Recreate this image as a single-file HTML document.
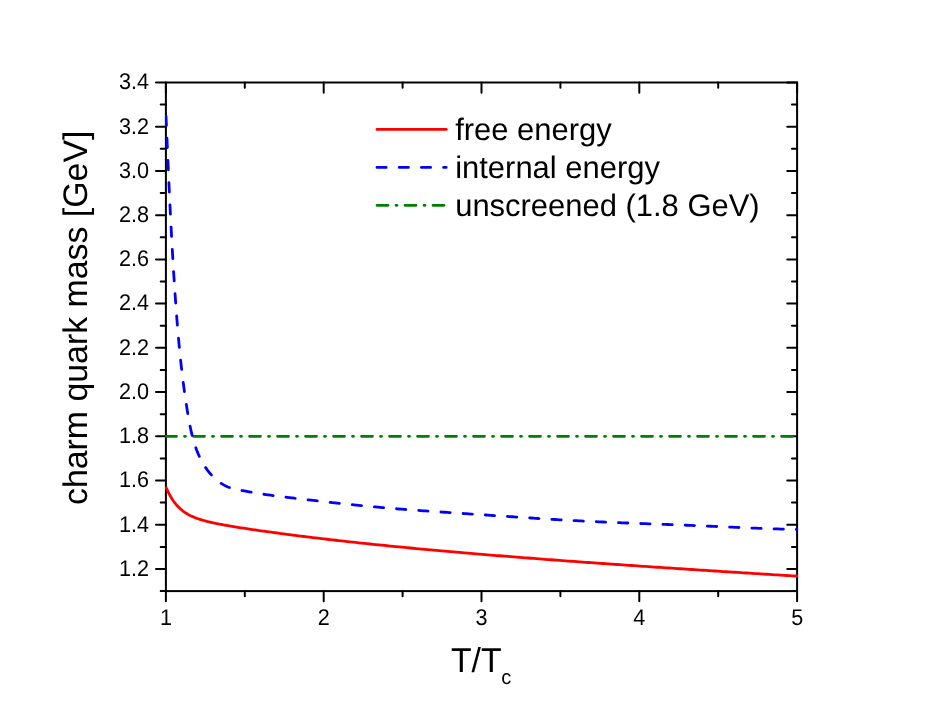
<!DOCTYPE html>
<html><head><meta charset="utf-8"><title>chart</title>
<style>
html,body{margin:0;padding:0;background:#fff;}
svg{display:block;will-change:transform;text-rendering:geometricPrecision;font-family:"Liberation Sans",sans-serif;fill:#000;}
</style></head>
<body>
<svg width="926" height="709" viewBox="0 0 926 709">
<rect width="926" height="709" fill="#fff" stroke="none"/>
<rect x="165.9" y="82.5" width="631.2" height="508.6" fill="none" stroke="#000" stroke-width="2"/>
<path d="M165.9,591.1h-5.2M797.15,591.1h-5.2M165.9,569.0h-9.9M797.15,569.0h-9.9M165.9,546.9h-5.2M797.15,546.9h-5.2M165.9,524.7h-9.9M797.15,524.7h-9.9M165.9,502.6h-5.2M797.15,502.6h-5.2M165.9,480.5h-9.9M797.15,480.5h-9.9M165.9,458.4h-5.2M797.15,458.4h-5.2M165.9,436.3h-9.9M797.15,436.3h-9.9M165.9,414.2h-5.2M797.15,414.2h-5.2M165.9,392.1h-9.9M797.15,392.1h-9.9M165.9,370.0h-5.2M797.15,370.0h-5.2M165.9,347.8h-9.9M797.15,347.8h-9.9M165.9,325.7h-5.2M797.15,325.7h-5.2M165.9,303.6h-9.9M797.15,303.6h-9.9M165.9,281.5h-5.2M797.15,281.5h-5.2M165.9,259.4h-9.9M797.15,259.4h-9.9M165.9,237.3h-5.2M797.15,237.3h-5.2M165.9,215.2h-9.9M797.15,215.2h-9.9M165.9,193.1h-5.2M797.15,193.1h-5.2M165.9,170.9h-9.9M797.15,170.9h-9.9M165.9,148.8h-5.2M797.15,148.8h-5.2M165.9,126.7h-9.9M797.15,126.7h-9.9M165.9,104.6h-5.2M797.15,104.6h-5.2M165.9,82.5h-9.9M797.15,82.5h-9.9M165.9,591.1v10.2M165.9,82.5v10.2M244.8,591.1v5.2M244.8,82.5v5.2M323.7,591.1v10.2M323.7,82.5v10.2M402.6,591.1v5.2M402.6,82.5v5.2M481.5,591.1v10.2M481.5,82.5v10.2M560.4,591.1v5.2M560.4,82.5v5.2M639.3,591.1v10.2M639.3,82.5v10.2M718.2,591.1v5.2M718.2,82.5v5.2M797.1,591.1v10.2M797.1,82.5v10.2" stroke="#000" stroke-width="2" stroke-linecap="round" fill="none"/>
<g font-size="21.6"><text transform="translate(149,575.76) scale(1,1.05)" text-anchor="end">1.2</text><text transform="translate(149,531.54) scale(1,1.05)" text-anchor="end">1.4</text><text transform="translate(149,487.32) scale(1,1.05)" text-anchor="end">1.6</text><text transform="translate(149,443.09) scale(1,1.05)" text-anchor="end">1.8</text><text transform="translate(149,398.87) scale(1,1.05)" text-anchor="end">2.0</text><text transform="translate(149,354.64) scale(1,1.05)" text-anchor="end">2.2</text><text transform="translate(149,310.42) scale(1,1.05)" text-anchor="end">2.4</text><text transform="translate(149,266.20) scale(1,1.05)" text-anchor="end">2.6</text><text transform="translate(149,221.97) scale(1,1.05)" text-anchor="end">2.8</text><text transform="translate(149,177.75) scale(1,1.05)" text-anchor="end">3.0</text><text transform="translate(149,133.52) scale(1,1.05)" text-anchor="end">3.2</text><text transform="translate(149,89.30) scale(1,1.05)" text-anchor="end">3.4</text><text transform="translate(165.90,624.9) scale(1,1.05)" text-anchor="middle">1</text><text transform="translate(323.71,624.9) scale(1,1.05)" text-anchor="middle">2</text><text transform="translate(481.52,624.9) scale(1,1.05)" text-anchor="middle">3</text><text transform="translate(639.34,624.9) scale(1,1.05)" text-anchor="middle">4</text><text transform="translate(797.15,624.9) scale(1,1.05)" text-anchor="middle">5</text></g>
<clipPath id="cp"><rect x="164.90" y="81.50" width="633.25" height="510.58"/></clipPath>
<g clip-path="url(#cp)">
<path d="M165.9,436.3H797.15" stroke="#008000" stroke-width="2.8" stroke-linecap="round" stroke-dasharray="11 8 1 8" stroke-dashoffset="0.4" fill="none"/>
<path d="M165.98,115.55 L166.08,117.94 L166.18,120.33 L166.29,122.72 L166.39,125.11 L166.49,127.51 L166.59,129.90 L166.70,132.29 L166.80,134.69 L166.90,137.08 L167.01,139.48 L167.11,141.87 L167.21,144.27 L167.32,146.66 L167.42,149.06 L167.52,151.46 L167.63,153.86 L167.73,156.25 L167.84,158.65 L167.94,161.05 L168.05,163.45 L168.16,165.85 L168.26,168.25 L168.37,170.65 L168.48,173.05 L168.59,175.44 L168.69,177.84 L168.80,180.25 L168.91,182.65 L169.02,185.05 L169.13,187.45 L169.24,189.85 L169.36,192.25 L169.47,194.65 L169.58,197.05 L169.70,199.45 L169.81,201.85 L169.93,204.26 L170.04,206.66 L170.16,209.06 L170.28,211.46 L170.40,213.86 L170.52,216.26 L170.64,218.66 L170.76,221.07 L170.89,223.47 L171.01,225.87 L171.13,228.27 L171.26,230.67 L171.39,233.07 L171.52,235.47 L171.65,237.87 L171.78,240.27 L171.91,242.67 L172.04,245.07 L172.18,247.47 L172.31,249.87 L172.45,252.27 L172.59,254.67 L172.73,257.07 L172.87,259.47 L173.01,261.87 L173.15,264.27 L173.30,266.66 L173.44,269.06 L173.59,271.46 L173.74,273.86 L173.89,276.25 L174.05,278.65 L174.20,281.04 L174.36,283.44 L174.51,285.83 L174.67,288.23 L174.83,290.62 L175.00,293.01 L175.16,295.41 L175.33,297.80 L175.50,300.19 L175.67,302.58 L175.84,304.97 L176.01,307.36 L176.19,309.75 L176.36,312.14 L176.54,314.53 L176.73,316.92 L176.91,319.31 L177.10,321.70 L177.29,324.08 L177.49,326.47 L177.68,328.86 L177.88,331.24 L178.09,333.63 L178.29,336.01 L178.51,338.40 L178.72,340.78 L178.94,343.17 L179.16,345.55 L179.39,347.94 L179.62,350.32 L179.86,352.71 L180.10,355.09 L180.34,357.47 L180.59,359.86 L180.85,362.24 L181.11,364.62 L181.37,367.01 L181.64,369.39 L181.92,371.78 L182.20,374.16 L182.49,376.54 L182.78,378.93 L183.08,381.31 L183.39,383.70 L183.70,386.08 L184.02,388.47 L184.34,390.85 L184.67,393.24 L185.01,395.62 L185.36,398.01 L185.71,400.39 L186.07,402.78 L186.44,405.16 L186.81,407.55 L187.19,409.94 L187.58,412.33 L187.98,414.71 L188.39,417.10 L188.81,419.49 L189.24,421.87 L189.69,424.25 L190.16,426.62 L190.66,428.99 L191.17,431.34 L191.72,433.69 L192.30,436.02 L192.91,438.34 L193.55,440.65 L194.23,442.94 L194.96,445.21 L195.73,447.47 L196.54,449.70 L197.40,451.91 L198.32,454.10 L199.29,456.27 L200.31,458.41 L201.40,460.52 L202.54,462.60 L203.75,464.65 L205.03,466.67 L206.38,468.66 L207.79,470.60 L209.28,472.49 L210.83,474.32 L212.45,476.09 L214.15,477.78 L215.91,479.39 L217.73,480.92 L219.63,482.35 L221.60,483.67 L223.64,484.89 L225.75,485.99 L227.92,486.96 L230.17,487.80 L232.48,488.51 L234.85,489.11 L237.24,489.62 L239.65,490.09 L242.05,490.54 L244.44,490.98 L246.81,491.41 L249.18,491.84 L251.55,492.26 L253.91,492.67 L256.28,493.06 L258.64,493.45 L261.01,493.82 L263.38,494.18 L265.75,494.53 L268.12,494.88 L270.49,495.22 L272.87,495.54 L275.24,495.86 L277.62,496.18 L279.99,496.48 L282.37,496.79 L284.75,497.08 L287.13,497.37 L289.51,497.66 L291.89,497.94 L294.27,498.22 L296.65,498.50 L299.03,498.78 L301.41,499.05 L303.80,499.32 L306.18,499.59 L308.56,499.87 L310.95,500.14 L313.33,500.41 L315.71,500.68 L318.10,500.95 L320.48,501.23 L322.87,501.50 L325.25,501.77 L327.64,502.04 L330.02,502.30 L332.41,502.57 L334.80,502.83 L337.18,503.10 L339.57,503.36 L341.95,503.62 L344.34,503.88 L346.73,504.13 L349.12,504.39 L351.50,504.64 L353.89,504.88 L356.28,505.13 L358.67,505.37 L361.06,505.61 L363.44,505.84 L365.83,506.07 L368.22,506.30 L370.61,506.53 L373.00,506.75 L375.39,506.97 L377.78,507.18 L380.17,507.39 L382.56,507.60 L384.95,507.81 L387.34,508.01 L389.73,508.21 L392.12,508.41 L394.52,508.60 L396.91,508.80 L399.30,508.99 L401.69,509.17 L404.08,509.36 L406.47,509.54 L408.87,509.73 L411.26,509.91 L413.65,510.08 L416.04,510.26 L418.43,510.44 L420.83,510.61 L423.22,510.78 L425.61,510.95 L428.01,511.12 L430.40,511.29 L432.79,511.45 L435.19,511.62 L437.58,511.78 L439.97,511.95 L442.37,512.11 L444.76,512.27 L447.15,512.43 L449.55,512.59 L451.94,512.75 L454.34,512.91 L456.73,513.07 L459.13,513.23 L461.52,513.39 L463.91,513.55 L466.31,513.71 L468.70,513.87 L471.10,514.03 L473.49,514.19 L475.89,514.35 L478.28,514.51 L480.68,514.67 L483.07,514.83 L485.47,514.99 L487.86,515.16 L490.26,515.32 L492.65,515.48 L495.05,515.64 L497.44,515.80 L499.84,515.96 L502.23,516.12 L504.63,516.28 L507.02,516.44 L509.42,516.60 L511.81,516.76 L514.21,516.92 L516.61,517.08 L519.00,517.24 L521.40,517.40 L523.79,517.56 L526.19,517.71 L528.58,517.87 L530.98,518.02 L533.38,518.17 L535.77,518.33 L538.17,518.48 L540.57,518.63 L542.96,518.78 L545.36,518.93 L547.75,519.07 L550.15,519.22 L552.55,519.36 L554.94,519.51 L557.34,519.65 L559.74,519.79 L562.13,519.93 L564.53,520.06 L566.93,520.20 L569.32,520.33 L571.72,520.46 L574.12,520.59 L576.52,520.72 L578.91,520.84 L581.31,520.97 L583.71,521.09 L586.11,521.21 L588.50,521.33 L590.90,521.44 L593.30,521.56 L595.70,521.67 L598.09,521.78 L600.49,521.89 L602.89,521.99 L605.29,522.10 L607.68,522.20 L610.08,522.30 L612.48,522.40 L614.88,522.50 L617.28,522.60 L619.67,522.70 L622.07,522.79 L624.47,522.89 L626.87,522.98 L629.27,523.08 L631.67,523.17 L634.06,523.26 L636.46,523.35 L638.86,523.44 L641.26,523.53 L643.66,523.62 L646.06,523.71 L648.46,523.80 L650.85,523.89 L653.25,523.98 L655.65,524.07 L658.05,524.16 L660.45,524.24 L662.85,524.33 L665.25,524.42 L667.64,524.51 L670.04,524.60 L672.44,524.69 L674.84,524.78 L677.24,524.88 L679.64,524.97 L682.04,525.06 L684.44,525.16 L686.83,525.25 L689.23,525.35 L691.63,525.44 L694.03,525.54 L696.43,525.64 L698.83,525.74 L701.23,525.84 L703.63,525.95 L706.02,526.05 L708.42,526.15 L710.82,526.26 L713.22,526.36 L715.62,526.47 L718.02,526.57 L720.42,526.68 L722.82,526.79 L725.21,526.89 L727.61,527.00 L730.01,527.10 L732.41,527.21 L734.81,527.31 L737.21,527.42 L739.61,527.52 L742.01,527.62 L744.41,527.72 L746.81,527.82 L749.20,527.92 L751.60,528.02 L754.00,528.11 L756.40,528.21 L758.80,528.30 L761.20,528.39 L763.60,528.48 L766.00,528.57 L768.40,528.65 L770.80,528.73 L773.20,528.81 L775.60,528.89 L778.00,528.96 L780.40,529.03 L782.80,529.10 L785.20,529.17 L787.60,529.23 L790.00,529.29 L792.40,529.34 L794.80,529.39 L797.20,529.44" stroke="#0000ff" stroke-width="2.8" stroke-linecap="round" stroke-dasharray="9.3 12.94" stroke-dashoffset="-0.5" fill="none"/>
<path d="M165.90,486.74 L166.40,487.96 L166.91,489.13 L167.41,490.25 L167.92,491.34 L168.42,492.39 L168.93,493.40 L169.43,494.37 L169.93,495.31 L170.44,496.21 L170.94,497.09 L171.45,497.93 L171.95,498.74 L172.45,499.53 L172.96,500.28 L173.46,501.01 L173.97,501.72 L174.47,502.40 L174.98,503.06 L175.48,503.69 L175.98,504.31 L176.49,504.90 L176.99,505.47 L177.50,506.03 L178.00,506.56 L178.51,507.08 L179.01,507.58 L179.51,508.07 L180.02,508.54 L180.52,508.99 L181.03,509.43 L181.53,509.86 L182.03,510.27 L182.54,510.67 L183.04,511.06 L183.55,511.43 L184.05,511.80 L184.56,512.15 L185.06,512.49 L185.56,512.83 L186.07,513.15 L186.57,513.46 L187.08,513.77 L187.58,514.07 L188.08,514.35 L188.59,514.63 L189.09,514.91 L189.60,515.17 L190.10,515.43 L190.61,515.68 L191.11,515.93 L191.61,516.16 L192.12,516.40 L192.62,516.62 L193.13,516.85 L193.63,517.06 L194.14,517.27 L194.64,517.48 L195.14,517.68 L195.65,517.88 L196.15,518.07 L196.66,518.25 L197.16,518.44 L197.66,518.62 L198.17,518.79 L198.67,518.97 L199.18,519.14 L199.68,519.30 L200.19,519.46 L200.69,519.62 L201.19,519.78 L201.70,519.93 L202.20,520.08 L202.71,520.23 L203.21,520.38 L203.72,520.52 L204.22,520.66 L204.72,520.80 L205.23,520.93 L205.73,521.07 L206.24,521.20 L206.74,521.33 L207.24,521.46 L207.75,521.58 L208.25,521.71 L208.76,521.83 L209.26,521.95 L209.77,522.07 L210.27,522.19 L210.77,522.30 L211.28,522.42 L211.78,522.53 L212.29,522.64 L212.79,522.75 L213.29,522.86 L213.80,522.97 L214.30,523.08 L214.81,523.19 L215.31,523.29 L215.82,523.40 L216.32,523.50 L216.82,523.60 L217.33,523.70 L217.83,523.80 L218.34,523.90 L218.84,524.00 L219.35,524.10 L219.85,524.20 L220.35,524.29 L220.86,524.39 L221.36,524.48 L221.87,524.58 L222.37,524.67 L222.87,524.77 L223.38,524.86 L223.88,524.95 L224.39,525.04 L224.89,525.13 L225.40,525.22 L225.90,525.31 L226.40,525.40 L229.27,525.90 L232.15,526.38 L235.02,526.86 L237.89,527.32 L240.77,527.77 L243.64,528.22 L246.51,528.66 L249.38,529.09 L252.26,529.52 L255.13,529.94 L258.00,530.35 L260.88,530.77 L263.75,531.17 L266.62,531.58 L269.50,531.97 L272.37,532.37 L275.24,532.76 L278.12,533.15 L280.99,533.53 L283.86,533.91 L286.74,534.29 L289.61,534.66 L292.48,535.03 L295.35,535.40 L298.23,535.77 L301.10,536.13 L303.97,536.49 L306.85,536.84 L309.72,537.19 L312.59,537.54 L315.47,537.89 L318.34,538.23 L321.21,538.57 L324.09,538.91 L326.96,539.25 L329.83,539.58 L332.71,539.91 L335.58,540.24 L338.45,540.57 L341.32,540.89 L344.20,541.21 L347.07,541.53 L349.94,541.84 L352.82,542.16 L355.69,542.47 L358.56,542.78 L361.44,543.08 L364.31,543.39 L367.18,543.69 L370.06,543.99 L372.93,544.29 L375.80,544.59 L378.68,544.88 L381.55,545.17 L384.42,545.46 L387.29,545.75 L390.17,546.04 L393.04,546.32 L395.91,546.60 L398.79,546.89 L401.66,547.16 L404.53,547.44 L407.41,547.72 L410.28,547.99 L413.15,548.26 L416.03,548.53 L418.90,548.80 L421.77,549.07 L424.64,549.34 L427.52,549.60 L430.39,549.86 L433.26,550.12 L436.14,550.38 L439.01,550.64 L441.88,550.90 L444.76,551.15 L447.63,551.41 L450.50,551.66 L453.38,551.91 L456.25,552.16 L459.12,552.41 L462.00,552.66 L464.87,552.90 L467.74,553.15 L470.61,553.39 L473.49,553.63 L476.36,553.87 L479.23,554.11 L482.11,554.35 L484.98,554.59 L487.85,554.82 L490.73,555.06 L493.60,555.29 L496.47,555.53 L499.35,555.76 L502.22,555.99 L505.09,556.22 L507.97,556.45 L510.84,556.67 L513.71,556.90 L516.58,557.13 L519.46,557.35 L522.33,557.57 L525.20,557.80 L528.08,558.02 L530.95,558.24 L533.82,558.46 L536.70,558.68 L539.57,558.90 L542.44,559.12 L545.32,559.33 L548.19,559.55 L551.06,559.76 L553.94,559.98 L556.81,560.19 L559.68,560.40 L562.55,560.62 L565.43,560.83 L568.30,561.04 L571.17,561.25 L574.05,561.46 L576.92,561.66 L579.79,561.87 L582.67,562.08 L585.54,562.28 L588.41,562.49 L591.29,562.69 L594.16,562.90 L597.03,563.10 L599.91,563.30 L602.78,563.51 L605.65,563.71 L608.52,563.91 L611.40,564.11 L614.27,564.31 L617.14,564.51 L620.02,564.71 L622.89,564.91 L625.76,565.10 L628.64,565.30 L631.51,565.50 L634.38,565.69 L637.26,565.89 L640.13,566.08 L643.00,566.28 L645.87,566.47 L648.75,566.67 L651.62,566.86 L654.49,567.05 L657.37,567.24 L660.24,567.43 L663.11,567.63 L665.99,567.82 L668.86,568.01 L671.73,568.20 L674.61,568.39 L677.48,568.57 L680.35,568.76 L683.23,568.95 L686.10,569.14 L688.97,569.33 L691.84,569.51 L694.72,569.70 L697.59,569.89 L700.46,570.07 L703.34,570.26 L706.21,570.44 L709.08,570.63 L711.96,570.81 L714.83,570.99 L717.70,571.18 L720.58,571.36 L723.45,571.54 L726.32,571.73 L729.20,571.91 L732.07,572.09 L734.94,572.27 L737.81,572.45 L740.69,572.64 L743.56,572.82 L746.43,573.00 L749.31,573.18 L752.18,573.36 L755.05,573.54 L757.93,573.72 L760.80,573.90 L763.67,574.07 L766.55,574.25 L769.42,574.43 L772.29,574.61 L775.17,574.79 L778.04,574.96 L780.91,575.14 L783.78,575.32 L786.66,575.50 L789.53,575.67 L792.40,575.85 L795.28,576.02 L798.15,576.20" stroke="#ff0000" stroke-width="2.8" fill="none" stroke-linejoin="round"/>
</g>
<g stroke-width="2.8" stroke-linecap="round" fill="none">
<path d="M377,129.4H446.2" stroke="#ff0000"/>
<path d="M377,167.45H446.2" stroke="#0000ff" stroke-dasharray="9.2 13"/>
<path d="M377,205.35H446.2" stroke="#008000" stroke-dasharray="11 8 1 8"/>
</g>
<g font-size="30.95"><text transform="translate(455.2,139.9) scale(1,1.005)">free energy</text><text transform="translate(455.2,178.0) scale(1,1.005)">internal energy</text><text transform="translate(455.2,216.0) scale(1,1.005)">unscreened (1.8 GeV)</text></g>
<text font-size="33.87" transform="translate(87.1,317.8) rotate(-90) scale(1,1.005)" text-anchor="middle">charm quark mass [GeV]</text>
<text font-size="33.75" transform="translate(451.0,671.7) scale(1,1.02)">T/T<tspan font-size="20" dx="-0.3" dy="12.0">c</tspan></text>
</svg>
</body></html>
